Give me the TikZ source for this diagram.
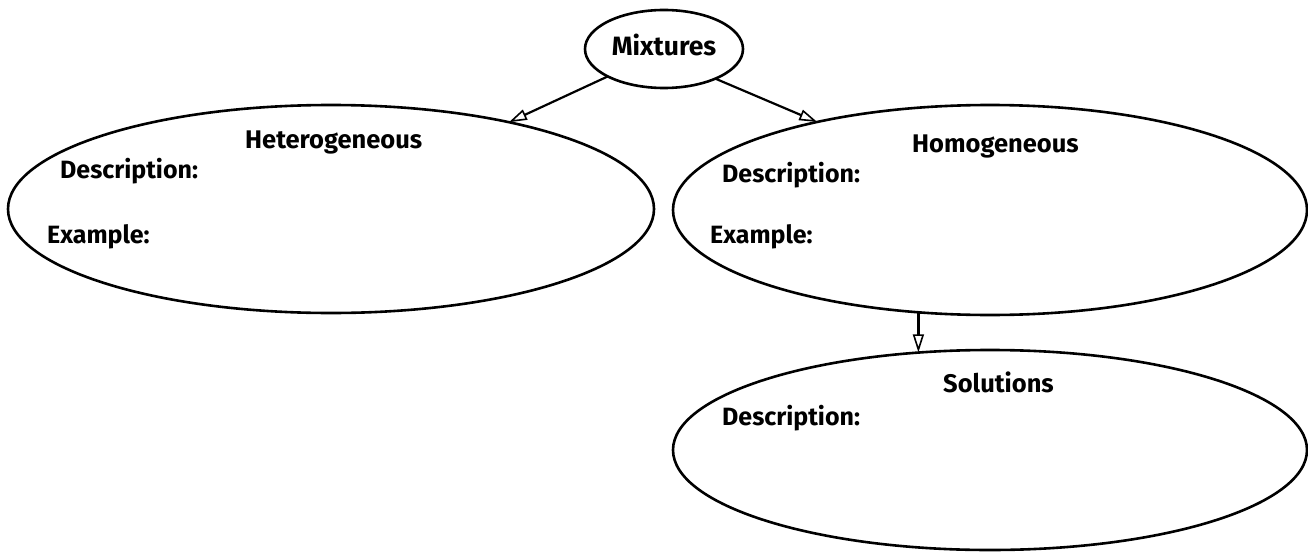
\documentclass[tikz,border=0pt]{standalone}
\usepackage{fontspec}
\setmainfont{Fira Sans}
\usetikzlibrary{shapes.geometric,arrows.meta}
\tikzset{
  bubble/.style={draw=black, line width=2.6pt, ellipse, inner sep=0pt, outer sep=0pt, fill=none},
  lbl/.style={inner sep=0pt, anchor=base west, font=\bfseries\fontsize{25}{27}\selectfont},
  ttl/.style={inner sep=0pt, anchor=base west, font=\bfseries\fontsize{25.5}{27}\selectfont},
  link/.style={draw=black, line width=2.2pt, -{Triangle[open, length=18pt, width=11pt, line width=1.6pt]}}
}
\begin{document}
\begin{tikzpicture}[x=1pt, y=-1pt]
\useasboundingbox[fill=white] (0,0) rectangle (1308,559);
% ellipses
\node[bubble, minimum width=158pt, minimum height=78pt] (mix) at (664,49) {};
\node[bubble, minimum width=646pt, minimum height=208pt] (het) at (331,209) {};
\node[bubble, minimum width=634pt, minimum height=210pt] (hom) at (990,210) {};
\node[bubble, minimum width=634pt, minimum height=200pt] (sol) at (990,450) {};
% texts
\node[inner sep=0pt, anchor=base, font=\bfseries\fontsize{26.5}{28}\selectfont] (mixt) at (664,56) {Mixtures};
\node[ttl] (hett) at (245,148) {Heterogeneous};
\node[lbl] (hetd) at (60,178) {Description:};
\node[lbl] (hete) at (47,243) {Example:};
\node[ttl] (homt) at (912,152) {Homogeneous};
\node[lbl] (homd) at (722,182) {Description:};
\node[lbl] (home) at (710,243) {Example:};
\node[ttl] (solt) at (943,392) {Solutions};
\node[lbl] (sold) at (722,425) {Description:};
% connectors
\coordinate (vs) at (hom.235.6);
\draw[link] (mix.206) -- (het.26.7);
\draw[link] (mix.330) -- (hom.153.8);
\draw[link] (vs) -- (vs |- sol.125.7);
\end{tikzpicture}
\end{document}
